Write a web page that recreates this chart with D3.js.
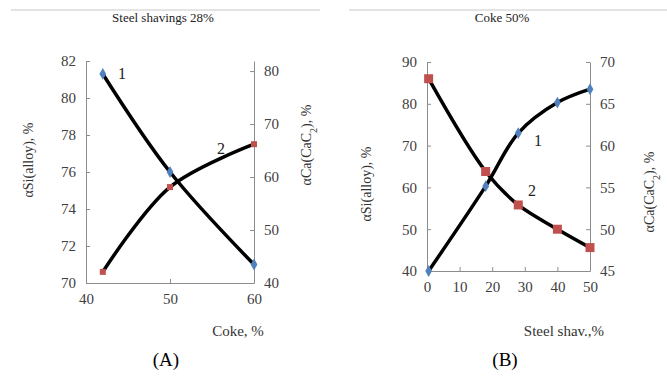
<!DOCTYPE html>
<html lang="en">
<head>
  <meta charset="UTF-8">
  <title>Si and Ca extraction</title>
  <script src="https://d3js.org/d3.v7.min.js"></script>
  <style>
    body { margin: 0; background: white; }
    svg text { font-family: "Liberation Serif", "DejaVu Serif", serif !important; }
    .tick text { fill: #404040; }
    .domain, .tick line { stroke: #8c8c8c; }
  </style>
</head>
<body>
<svg width="667" height="376"></svg>

<script>
  // Panel A : steel shavings 28 %, x = coke %
  const cokeA = [42, 50, 60];
  const siA = [81.3, 76.0, 71.0];
  const caA = [42.1, 58.1, 66.2];

  // Panel B : coke 50 %, x = steel shavings %
  const steelB = [0.5, 18, 28, 40, 50];
  const siB = [40.0, 60.3, 73.0, 80.3, 83.5];
  const caB = [68.0, 56.9, 52.9, 50.0, 47.8];

  const svg = d3.select("svg");

  const panels = [
    {
      title: "Steel shavings 28%", tag: "(A)", xTitle: "Coke, %",
      xs: cokeA, s1: siA, s2: caA,
      xDomain: [40, 60], xTicks: [40, 50, 60], xRange: [86, 254],
      yDomain: [70, 82], yTicks: [70, 72, 74, 76, 78, 80, 82],
      y2Domain: [40, 81.9], y2Ticks: [40, 50, 60, 70, 80],
      yRange: [283, 61],
      line: [11, 320], titleX: 163, tagX: 166, xTitleX: 238,
      lTitle: [28, 160], rTitle: [306, 145],
      lab1: [118, 79], lab2: [217, 154], sq: 6
    },
    {
      title: "Coke 50%", tag: "(B)", xTitle: "Steel shav.,%",
      xs: steelB, s1: siB, s2: caB,
      xDomain: [0, 50], xTicks: [0, 10, 20, 30, 40, 50], xRange: [427, 590],
      yDomain: [40, 90], yTicks: [40, 50, 60, 70, 80, 90],
      y2Domain: [45, 70], y2Ticks: [45, 50, 55, 60, 65, 70],
      yRange: [271, 62],
      line: [349, 667], titleX: 502, tagX: 505, xTitleX: 564,
      lTitle: [366, 184], rTitle: [649, 192],
      lab1: [534, 146], lab2: [528, 196], sq: 9
    }
  ];

  panels.forEach(p => {
    const x = d3.scaleLinear().domain(p.xDomain).range(p.xRange);
    const y = d3.scaleLinear().domain(p.yDomain).range(p.yRange);
    const y2 = d3.scaleLinear().domain(p.y2Domain).range(p.yRange);

    // thin rule and heading
    svg.append("line")
      .attr("x1", p.line[0]).attr("x2", p.line[1])
      .attr("y1", 10).attr("y2", 10)
      .attr("stroke", "#c8c8c8").attr("stroke-width", 1);
    svg.append("text")
      .attr("x", p.titleX).attr("y", 22)
      .attr("text-anchor", "middle")
      .style("font-size", "13px").attr("fill", "#222")
      .text(p.title);

    // axes (ticks pointing inside)
    const big = g => g.selectAll("text").style("font-size", "15px");
    svg.append("g")
      .attr("transform", `translate(0,${p.yRange[0]})`)
      .call(d3.axisBottom(x).tickValues(p.xTicks).tickSizeInner(-4).tickSizeOuter(0).tickPadding(10))
      .call(big);
    svg.append("g")
      .attr("transform", `translate(${p.xRange[0]},0)`)
      .call(d3.axisLeft(y).tickValues(p.yTicks).tickSizeInner(-4).tickSizeOuter(0).tickPadding(10))
      .call(big);
    svg.append("g")
      .attr("transform", `translate(${p.xRange[1]},0)`)
      .call(d3.axisRight(y2).tickValues(p.y2Ticks).tickSizeInner(-4).tickSizeOuter(0).tickPadding(10))
      .call(big);

    // curves
    const pts1 = p.xs.map((v, i) => [x(v), y(p.s1[i])]);
    const pts2 = p.xs.map((v, i) => [x(v), y2(p.s2[i])]);
    const line = d3.line().curve(d3.curveCatmullRom.alpha(0.5));
    [pts1, pts2].forEach(pts => {
      svg.append("path")
        .attr("d", line(pts))
        .attr("fill", "none")
        .attr("stroke", "#000")
        .attr("stroke-width", 3.5);
    });

    // markers
    svg.append("g").selectAll("path")
      .data(pts2).join("path")
      .attr("d", d3.symbol(d3.symbolSquare, p.sq * p.sq))
      .attr("transform", d => `translate(${d[0]},${d[1]})`)
      .attr("fill", "#c0504d");
    svg.append("g").selectAll("path")
      .data(pts1).join("path")
      .attr("d", d3.symbol(d3.symbolDiamond, 40))
      .attr("transform", d => `translate(${d[0]},${d[1]})`)
      .attr("fill", "#4f81bd");

    // curve numbers
    [["1", p.lab1], ["2", p.lab2]].forEach(([t, pos]) => {
      svg.append("text")
        .attr("x", pos[0]).attr("y", pos[1])
        .style("font-size", "16px").attr("fill", "#222")
        .text(t);
    });

    // axis titles
    svg.append("text")
      .attr("transform", `translate(${p.lTitle[0]},${p.lTitle[1]}) rotate(-90)`)
      .attr("text-anchor", "middle").attr("dy", "0.35em")
      .style("font-size", "14px").attr("fill", "#333")
      .text("αSi(alloy), %");
    const rt = svg.append("text")
      .attr("transform", `translate(${p.rTitle[0]},${p.rTitle[1]}) rotate(-90)`)
      .attr("text-anchor", "middle").attr("dy", "0.35em")
      .style("font-size", "14px").attr("fill", "#333");
    rt.append("tspan").text("αCa(CaC");
    rt.append("tspan").attr("baseline-shift", "sub").style("font-size", "10px").text("2");
    rt.append("tspan").text("), %");

    svg.append("text")
      .attr("x", p.xTitleX).attr("y", 336)
      .attr("text-anchor", "middle")
      .style("font-size", "15px").attr("fill", "#333")
      .text(p.xTitle);
    svg.append("text")
      .attr("x", p.tagX).attr("y", 366)
      .attr("text-anchor", "middle")
      .style("font-size", "19px").attr("fill", "#000")
      .text(p.tag);
  });
</script>
</body>
</html>
